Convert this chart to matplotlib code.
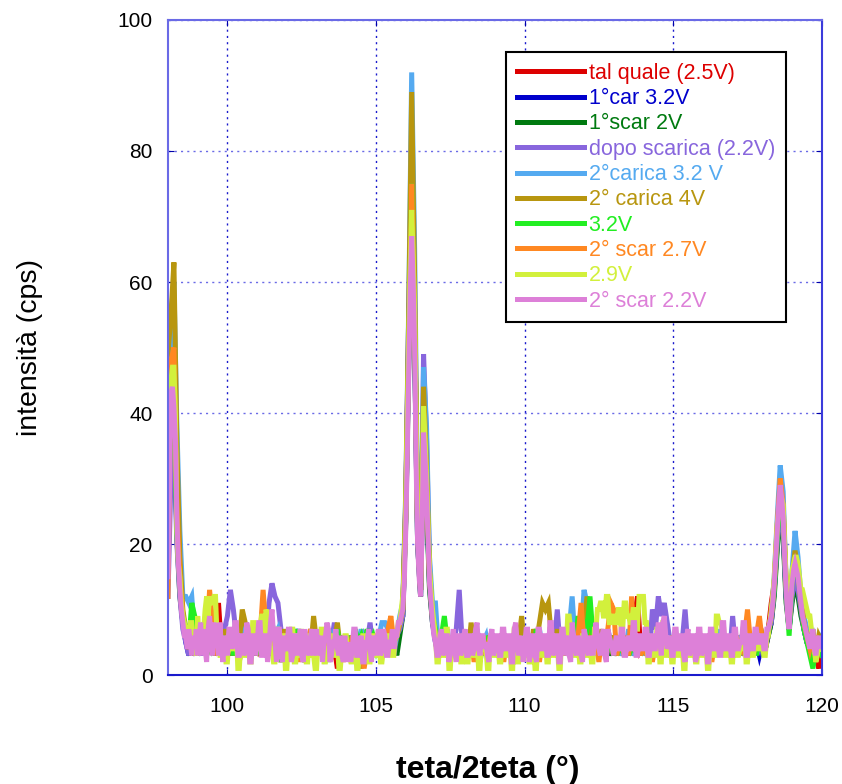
# Spettri XRD: zoom 98-120 gradi, varie condizioni di carica/scarica
import numpy as np
import matplotlib
matplotlib.use('Agg')
import matplotlib.pyplot as plt

plt.rcParams['font.family'] = ['Liberation Sans', 'DejaVu Sans']

# griglie angolari: passo 0.1 e passo 0.05 gradi
teta = np.linspace(98.0, 120.0, 221)
teta_fine = np.linspace(98.0, 120.0, 441)

# intensita (cps), una lista per curva
tal_quale = [22, 40, 45, 25, 15, 9, 6, 4, 7, 3,
             6, 4, 7, 5, 8, 6, 3, 11, 4, 6,
             3, 6, 4, 7, 3, 5, 4, 6, 3, 5,
             4, 7, 3, 5, 4, 6, 3, 5, 2, 6,
             4, 5, 3, 6, 4, 5, 2, 6, 4, 5,
             3, 6, 4, 5, 3, 6, 4, 1, 5, 3,
             6, 4, 5, 3, 6, 4, 5, 3, 6, 4,
             5, 3, 6, 4, 5, 3, 6, 4, 7, 10,
             26, 52, 79, 55, 22, 13, 40, 30, 15, 9,
             6, 4, 5, 3, 6, 4, 5, 3, 6, 4,
             5, 3, 6, 4, 5, 3, 6, 4, 5, 3,
             6, 4, 5, 3, 6, 4, 5, 3, 6, 4,
             5, 3, 6, 4, 5, 3, 6, 4, 5, 3,
             6, 4, 5, 3, 6, 4, 5, 3, 6, 4,
             5, 3, 6, 4, 5, 3, 6, 4, 5, 3,
             6, 4, 5, 3, 6, 4, 5, 9, 12, 4,
             5, 3, 6, 4, 5, 3, 6, 4, 5, 3,
             6, 4, 5, 3, 6, 4, 5, 3, 6, 4,
             5, 3, 6, 4, 5, 3, 6, 4, 5, 3,
             6, 4, 5, 3, 6, 4, 5, 3, 6, 4,
             5, 4, 7, 11, 14, 22, 28, 24, 13, 7,
             14, 17, 15, 11, 8, 6, 4, 6, 3, 1,
             5]
car1 = [18, 38, 42, 22, 13, 8, 5, 3, 6, 4,
        5, 3, 6, 4, 7, 5, 3, 6, 4, 5,
        4, 6, 3, 5, 4, 6, 3, 5, 4, 6,
        3, 5, 4, 6, 3, 5, 4, 6, 3, 5,
        4, 6, 3, 5, 4, 6, 3, 5, 4, 6,
        3, 5, 4, 6, 3, 5, 4, 6, 3, 5,
        4, 6, 3, 5, 4, 6, 3, 5, 4, 6,
        3, 5, 4, 6, 3, 5, 4, 6, 7, 9,
        24, 48, 70, 50, 20, 12, 36, 27, 14, 8,
        5, 3, 6, 4, 5, 3, 6, 4, 5, 3,
        6, 4, 5, 3, 6, 4, 5, 3, 6, 4,
        5, 3, 6, 4, 5, 3, 6, 4, 5, 3,
        6, 4, 5, 3, 6, 4, 5, 3, 6, 4,
        5, 3, 6, 4, 5, 3, 6, 4, 5, 3,
        6, 4, 5, 3, 6, 4, 5, 3, 6, 4,
        5, 3, 6, 4, 5, 3, 6, 4, 5, 3,
        6, 4, 5, 3, 6, 4, 5, 3, 6, 4,
        5, 3, 6, 4, 5, 3, 6, 4, 5, 3,
        6, 4, 5, 3, 6, 4, 5, 3, 6, 4,
        5, 3, 6, 4, 5, 3, 6, 4, 5, 3,
        5, 4, 6, 8, 13, 20, 26, 22, 12, 7,
        12, 15, 13, 10, 7, 5, 4, 6, 3, 5,
        4]
scar1 = [16, 36, 40, 21, 12, 8, 6, 4, 5, 3,
         6, 4, 5, 3, 6, 4, 5, 3, 6, 4,
         5, 3, 6, 4, 5, 3, 6, 4, 5, 3,
         6, 4, 5, 3, 6, 4, 5, 3, 6, 4,
         5, 3, 6, 4, 5, 3, 6, 4, 5, 3,
         6, 4, 5, 3, 6, 4, 5, 3, 6, 4,
         5, 3, 6, 4, 5, 3, 6, 4, 5, 3,
         6, 4, 5, 3, 6, 4, 5, 3, 6, 9,
         23, 47, 70, 50, 20, 12, 35, 26, 13, 8,
         6, 4, 5, 3, 6, 4, 5, 3, 6, 4,
         5, 3, 6, 4, 5, 3, 6, 4, 5, 3,
         6, 4, 5, 3, 6, 4, 5, 3, 6, 4,
         5, 3, 6, 4, 5, 3, 6, 4, 5, 3,
         6, 4, 5, 3, 6, 4, 5, 3, 6, 4,
         5, 3, 6, 4, 5, 3, 6, 4, 5, 3,
         6, 4, 5, 3, 6, 4, 5, 3, 6, 4,
         5, 3, 6, 4, 5, 3, 6, 4, 5, 3,
         6, 4, 5, 3, 6, 4, 5, 3, 6, 4,
         5, 3, 6, 4, 5, 3, 6, 4, 5, 3,
         6, 4, 5, 3, 6, 4, 5, 3, 6, 4,
         5, 4, 6, 8, 12, 19, 25, 21, 11, 7,
         11, 14, 12, 9, 7, 5, 4, 6, 3, 5,
         4]
dopo_scarica = [12, 30, 35, 20, 12, 7, 5, 3, 6, 4,
                5, 3, 6, 4, 7, 5, 3, 6, 4, 7,
                9, 13, 10, 6, 4, 7, 3, 6, 4, 5,
                3, 6, 8, 5, 11, 14, 12, 11, 7, 5,
                4, 6, 3, 5, 7, 4, 6, 3, 5, 4,
                6, 3, 5, 4, 7, 5, 8, 4, 6, 3,
                5, 4, 6, 3, 5, 4, 6, 5, 8, 4,
                5, 3, 6, 4, 7, 5, 3, 6, 7, 9,
                25, 55, 80, 52, 24, 14, 49, 36, 17, 9,
                6, 4, 5, 3, 6, 4, 5, 7, 13, 5,
                4, 6, 3, 5, 4, 6, 3, 5, 4, 6,
                3, 5, 4, 6, 3, 5, 4, 6, 3, 5,
                4, 6, 3, 5, 4, 6, 3, 5, 4, 6,
                5, 10, 4, 6, 3, 5, 4, 6, 3, 5,
                4, 6, 3, 5, 4, 6, 3, 5, 4, 6,
                3, 5, 4, 6, 3, 5, 4, 6, 3, 5,
                4, 6, 3, 10, 7, 12, 9, 11, 8, 5,
                4, 6, 3, 5, 10, 4, 6, 3, 5, 4,
                6, 3, 5, 4, 6, 3, 5, 4, 6, 3,
                9, 4, 6, 3, 5, 4, 6, 3, 5, 4,
                6, 4, 7, 8, 13, 20, 26, 22, 12, 7,
                12, 15, 13, 10, 7, 5, 4, 6, 3, 5,
                4]
carica2_32 = [35, 55, 60, 38, 22, 12, 12, 11, 12, 6,
              7, 4, 8, 5, 9, 6, 4, 7, 5, 6,
              4, 7, 5, 6, 3, 8, 4, 6, 3, 7,
              5, 8, 4, 9, 5, 8, 6, 7, 4, 6,
              3, 6, 4, 7, 5, 3, 6, 4, 7, 3,
              6, 4, 3, 7, 5, 6, 4, 5, 3, 6,
              4, 6, 3, 5, 4, 7, 3, 6, 4, 5,
              3, 6, 8, 8, 7, 5, 4, 6, 9, 11,
              28, 56, 92, 65, 25, 14, 47, 38, 18, 11,
              11, 4, 6, 5, 7, 3, 6, 4, 5, 3,
              6, 4, 5, 3, 7, 4, 5, 6, 3, 5,
              4, 6, 3, 5, 4, 6, 3, 7, 4, 5,
              3, 6, 4, 5, 3, 7, 4, 6, 3, 5,
              4, 6, 3, 5, 4, 7, 12, 5, 4, 6,
              13, 11, 6, 4, 5, 3, 6, 4, 7, 5,
              4, 6, 3, 5, 4, 7, 3, 5, 4, 6,
              3, 6, 4, 5, 3, 6, 4, 5, 3, 6,
              4, 5, 3, 6, 4, 5, 3, 6, 4, 5,
              3, 6, 4, 5, 3, 7, 4, 5, 3, 6,
              4, 5, 3, 6, 4, 7, 3, 5, 4, 6,
              5, 4, 7, 9, 15, 24, 32, 28, 14, 8,
              16, 22, 18, 12, 9, 7, 5, 6, 3, 5,
              6]
carica2_4 = [49, 55, 63, 35, 18, 10, 7, 5, 8, 4,
             6, 4, 7, 3, 8, 5, 4, 6, 3, 7,
             4, 6, 3, 7, 5, 10, 8, 6, 4, 7,
             3, 6, 4, 7, 5, 8, 4, 6, 3, 7,
             4, 6, 3, 5, 4, 7, 3, 6, 4, 9,
             5, 3, 6, 4, 7, 3, 5, 8, 4, 6,
             3, 5, 4, 6, 3, 1, 5, 4, 6, 3,
             5, 4, 6, 3, 7, 4, 5, 6, 8, 10,
             27, 55, 89, 60, 23, 13, 44, 32, 16, 9,
             6, 4, 5, 3, 6, 4, 5, 3, 6, 4,
             5, 3, 8, 4, 6, 3, 5, 4, 6, 3,
             5, 4, 6, 3, 5, 4, 6, 3, 5, 9,
             4, 6, 3, 7, 5, 8, 11, 10, 11, 6,
             4, 7, 3, 6, 4, 8, 5, 3, 6, 4,
             7, 12, 5, 3, 6, 4, 7, 3, 5, 4,
             6, 3, 5, 4, 6, 3, 5, 4, 6, 3,
             5, 4, 6, 3, 5, 4, 6, 3, 5, 4,
             6, 3, 5, 4, 6, 3, 5, 4, 6, 3,
             5, 4, 6, 3, 5, 4, 6, 3, 5, 4,
             6, 3, 5, 4, 6, 3, 5, 4, 6, 5,
             6, 4, 7, 9, 14, 22, 28, 25, 14, 8,
             15, 19, 16, 12, 8, 6, 5, 7, 3, 6,
             5]
v32 = [20, 42, 40, 22, 13, 9, 7, 5, 11, 9,
       6, 4, 7, 3, 6, 4, 8, 5, 3, 6,
       4, 7, 3, 5, 2, 6, 4, 7, 3, 5,
       4, 6, 3, 7, 4, 5, 3, 6, 2, 5,
       3, 6, 4, 7, 3, 5, 2, 6, 4, 5,
       3, 6, 4, 5, 2, 6, 3, 7, 4, 5,
       3, 6, 4, 7, 5, 6, 4, 7, 5, 6,
       4, 6, 3, 5, 4, 7, 5, 6, 8, 10,
       24, 50, 75, 54, 22, 13, 39, 29, 15, 9,
       7, 4, 6, 9, 5, 3, 6, 4, 5, 2,
       6, 4, 5, 3, 6, 2, 5, 4, 6, 3,
       5, 4, 6, 3, 5, 4, 6, 3, 5, 4,
       6, 3, 5, 4, 7, 3, 5, 4, 6, 3,
       5, 4, 6, 3, 5, 4, 7, 5, 9, 6,
       8, 7, 12, 6, 4, 5, 3, 6, 4, 5,
       3, 6, 4, 5, 3, 6, 4, 5, 3, 6,
       4, 5, 3, 6, 4, 5, 3, 6, 4, 5,
       3, 6, 4, 5, 3, 6, 4, 5, 3, 6,
       4, 5, 3, 6, 4, 5, 3, 6, 4, 5,
       3, 6, 4, 5, 3, 6, 4, 5, 3, 6,
       4, 5, 7, 9, 13, 21, 27, 24, 13, 6,
       14, 17, 15, 11, 7, 5, 3, 1, 4, 5,
       3]
scar2_27 = [12, 48, 50, 25, 15, 9, 6, 4, 7, 3,
            6, 4, 7, 5, 13, 8, 3, 6, 4, 5,
            3, 6, 4, 7, 2, 5, 3, 6, 4, 7,
            4, 6, 13, 7, 5, 8, 4, 6, 3, 5,
            3, 6, 4, 5, 2, 6, 3, 5, 7, 4,
            5, 3, 6, 2, 5, 4, 6, 3, 5, 2,
            5, 3, 6, 4, 2, 5, 1, 4, 6, 3,
            5, 3, 6, 4, 7, 9, 5, 6, 8, 10,
            24, 50, 75, 55, 22, 13, 40, 30, 15, 9,
            6, 3, 5, 4, 6, 2, 5, 3, 6, 4,
            5, 3, 6, 2, 5, 4, 6, 3, 5, 4,
            6, 3, 5, 2, 6, 4, 5, 3, 6, 4,
            5, 3, 6, 4, 5, 2, 6, 4, 5, 3,
            6, 4, 5, 3, 6, 8, 5, 3, 6, 11,
            5, 3, 6, 4, 5, 2, 6, 4, 7, 11,
            10, 3, 6, 4, 5, 3, 12, 4, 6, 3,
            5, 3, 6, 2, 5, 4, 6, 3, 5, 4,
            6, 3, 5, 4, 6, 3, 5, 4, 6, 3,
            5, 4, 6, 2, 5, 4, 6, 3, 5, 4,
            6, 3, 5, 4, 6, 10, 5, 3, 6, 9,
            5, 4, 7, 9, 14, 23, 30, 26, 14, 8,
            15, 18, 16, 11, 8, 6, 4, 6, 2, 5,
            4]
# le due curve in primo piano, lette a passo 0.05
v29 = [20, 35, 45, 47, 47, 40, 22, 17, 15, 11, 9, 8, 7, 5, 5, 8, 8, 4, 4, 3,
       9, 6, 5, 7, 7, 10, 12, 9, 12, 11, 11, 12, 12, 6, 6, 3, 3, 5, 5, 2,
       2, 6, 6, 4, 4, 7, 7, 1, 1, 5, 5, 3, 3, 6, 6, 2, 2, 8, 8, 4,
       4, 7, 7, 9, 9, 6, 10, 9, 9, 4, 4, 2, 2, 7, 7, 3, 3, 6, 6, 1,
       1, 5, 5, 7, 7, 2, 2, 6, 6, 3, 3, 5, 5, 2, 2, 6, 6, 3, 3, 1,
       1, 5, 5, 7, 7, 2, 2, 4, 4, 6, 6, 3, 3, 5, 5, 1, 1, 4, 4, 6,
       6, 3, 3, 2, 2, 5, 5, 1, 1, 4, 4, 6, 6, 3, 3, 2, 2, 6, 6, 3,
       3, 5, 5, 2, 2, 4, 4, 6, 6, 5, 5, 3, 3, 6, 6, 8, 8, 10, 12, 16,
       25, 38, 50, 62, 71, 64, 55, 38, 22, 17, 14, 25, 41, 36, 30, 23, 16, 13, 10, 8,
       6, 2, 2, 5, 5, 3, 3, 7, 7, 1, 1, 5, 5, 3, 3, 5, 5, 2, 2, 6,
       6, 2, 2, 5, 5, 3, 3, 6, 6, 1, 1, 5, 5, 4, 4, 1, 1, 6, 6, 3,
       3, 5, 5, 2, 2, 6, 6, 3, 3, 5, 5, 1, 1, 7, 7, 2, 2, 5, 5, 3,
       3, 6, 6, 2, 2, 5, 5, 1, 1, 6, 6, 3, 3, 5, 5, 2, 2, 7, 7, 3,
       3, 5, 5, 1, 1, 6, 6, 4, 4, 9, 9, 7, 7, 3, 3, 5, 5, 2, 2, 6,
       6, 3, 3, 5, 5, 2, 2, 7, 7, 10, 10, 11, 11, 9, 9, 12, 12, 8, 8, 9,
       9, 8, 8, 10, 10, 7, 7, 11, 11, 9, 9, 8, 8, 10, 10, 7, 7, 12, 12, 12,
       12, 8, 8, 2, 2, 5, 5, 3, 3, 7, 7, 2, 2, 8, 8, 3, 3, 5, 5, 2,
       2, 6, 6, 3, 3, 5, 5, 1, 1, 6, 6, 3, 3, 5, 5, 2, 2, 6, 6, 3,
       3, 5, 5, 1, 1, 6, 6, 3, 3, 9, 9, 8, 8, 7, 7, 3, 3, 5, 5, 2,
       2, 6, 6, 3, 3, 4, 4, 7, 7, 2, 2, 5, 5, 3, 3, 6, 6, 4, 4, 5,
       5, 3, 3, 6, 6, 8, 10, 12, 15, 19, 23, 25, 27, 27, 26, 20, 15, 11, 8, 12,
       16, 17, 18, 18, 17, 15, 13, 13, 12, 11, 10, 9, 9, 7, 6, 4, 2, 3, 5, 5,
       4]
scar2_22 = [15, 28, 43, 44, 41, 36, 24, 17, 13, 10, 8, 6, 6, 4, 7, 5, 3, 6, 4, 7,
            3, 6, 8, 3, 7, 4, 2, 7, 9, 5, 3, 8, 5, 6, 3, 8, 4, 2, 6, 5,
            3, 7, 7, 4, 5, 8, 8, 3, 3, 6, 6, 3, 4, 8, 7, 2, 2, 6, 6, 3,
            5, 8, 8, 3, 3, 6, 6, 2, 4, 8, 10, 6, 5, 2, 7, 7, 3, 2, 6, 4,
            4, 7, 7, 2, 3, 6, 6, 3, 5, 7, 3, 2, 7, 5, 4, 3, 6, 7, 3, 5,
            7, 3, 4, 6, 2, 5, 6, 8, 7, 2, 3, 5, 5, 7, 4, 3, 6, 3, 2, 6,
            2, 4, 5, 2, 4, 7, 7, 3, 3, 5, 6, 2, 2, 5, 5, 7, 4, 2, 6, 5,
            3, 6, 7, 3, 4, 7, 6, 3, 3, 5, 5, 7, 4, 6, 6, 8, 8, 9, 10, 14,
            22, 33, 46, 58, 67, 60, 50, 32, 20, 15, 12, 22, 37, 33, 28, 21, 14, 11, 8, 6,
            5, 3, 3, 6, 7, 3, 4, 6, 6, 2, 3, 5, 7, 4, 2, 6, 6, 3, 4, 6,
            7, 3, 3, 6, 6, 3, 4, 7, 8, 4, 3, 6, 6, 4, 5, 3, 2, 6, 7, 3,
            4, 6, 6, 3, 3, 7, 7, 4, 4, 6, 6, 2, 2, 7, 8, 5, 3, 4, 6, 2,
            4, 7, 7, 2, 3, 6, 6, 3, 2, 7, 7, 4, 4, 6, 6, 3, 3, 8, 8, 3,
            4, 6, 6, 2, 2, 7, 7, 3, 5, 6, 3, 2, 8, 6, 4, 3, 6, 5, 3, 2,
            7, 6, 4, 3, 6, 4, 3, 5, 8, 6, 4, 3, 6, 7, 3, 2, 7, 6, 5, 4,
            3, 5, 6, 4, 4, 7, 7, 3, 3, 5, 6, 4, 4, 8, 8, 3, 3, 6, 6, 4,
            4, 7, 7, 3, 3, 6, 6, 4, 4, 6, 8, 5, 3, 8, 9, 6, 4, 5, 6, 3,
            3, 7, 7, 4, 4, 6, 6, 3, 2, 6, 7, 3, 4, 6, 6, 2, 3, 7, 7, 3,
            4, 6, 6, 2, 2, 7, 7, 4, 4, 6, 6, 3, 3, 8, 8, 4, 4, 6, 6, 3,
            3, 7, 7, 4, 4, 5, 5, 8, 8, 3, 3, 6, 6, 4, 4, 7, 7, 5, 5, 6,
            6, 4, 4, 7, 7, 8, 9, 11, 14, 18, 22, 26, 29, 27, 24, 18, 13, 9, 7, 11,
            14, 16, 17, 16, 15, 13, 11, 9, 8, 7, 6, 5, 4, 6, 7, 4, 3, 5, 6, 4,
            5]

serie = [tal_quale, car1, scar1, dopo_scarica, carica2_32,
         carica2_4, v32, scar2_27, v29, scar2_22]
etichette = ['tal quale (2.5V)', '1°car 3.2V', '1°scar 2V', 'dopo scarica (2.2V)',
             '2°carica 3.2 V', '2° carica 4V', '3.2V', '2° scar 2.7V', '2.9V',
             '2° scar 2.2V']
colori = ['#dd0000', '#0000cc', '#007a10', '#8866dd', '#55aaf0',
          '#b8960f', '#22ee22', '#ff8822', '#d2f03c', '#dd80d8']

blu = '#1a1acc'
blu_chiaro = '#6a6ae6'

fig = plt.figure(figsize=(8.42, 7.84), dpi=100)
ax = fig.add_axes([0.1995, 0.139, 0.7765, 0.8355])

for y, lab, c in zip(serie, etichette, colori):
    x = teta if len(y) == len(teta) else teta_fine
    ax.plot(x, y, color=c, lw=3.6, label=lab, solid_joinstyle='miter')

ax.set_xlim(98, 120)
ax.set_ylim(0, 100)
ax.set_xticks([100, 105, 110, 115, 120])
ax.set_yticks([0, 20, 40, 60, 80, 100])
ax.xaxis.grid(True, color=blu, linestyle=(0, (1.5, 3)), linewidth=1.0)
ax.yaxis.grid(True, color=blu_chiaro, linestyle=(0, (1.5, 3)), linewidth=1.0)
ax.spines['left'].set_color(blu_chiaro)
ax.spines['top'].set_color(blu_chiaro)
ax.spines['bottom'].set_color(blu)
ax.spines['right'].set_color('#3b3bdb')
for s in ax.spines.values():
    s.set_linewidth(1.5)
ax.tick_params(axis='both', direction='in', top=True, right=True,
               color='#0000aa', length=4, labelsize=15)
ax.tick_params(axis='x', pad=16)
ax.tick_params(axis='y', pad=11)

ax.set_ylabel('intensità (cps)', fontsize=20.5)
ax.yaxis.set_label_coords(-0.191, 0.5)
ax.set_xlabel('teta/2teta (°)', fontsize=23, fontweight='bold')
ax.xaxis.set_label_coords(0.489, -0.122)

leg = ax.legend(loc='upper right', bbox_to_anchor=(0.945, 0.951), fontsize=15.5,
                handlelength=3.1, handletextpad=0.23, labelspacing=0.2,
                borderaxespad=0, fancybox=False, framealpha=1, borderpad=0.5)
leg.get_frame().set_edgecolor('black')
leg.get_frame().set_linewidth(1.5)
for line, txt, c in zip(leg.get_lines(), leg.get_texts(), colori):
    line.set_linewidth(3.6)
    txt.set_color(c)

fig.savefig('out.png', dpi=100)
